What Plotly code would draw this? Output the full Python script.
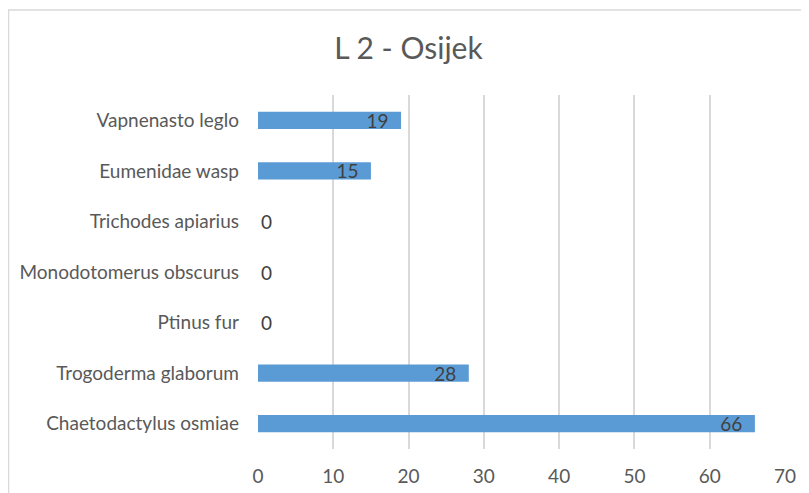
import plotly.graph_objects as go

categories = ["Chaetodactylus osmiae", "Trogoderma glaborum", "Ptinus fur",
              "Monodotomerus obscurus", "Trichodes apiarius", "Eumenidae wasp",
              "Vapnenasto leglo"]
counts = [66, 28, 0, 0, 0, 15, 19]
x_ticks = [0, 10, 20, 30, 40, 50, 60, 70]

# the page body adds an 8px offset, so the figure is sized to fit the window
W, H = 801, 485
L, R, T, B = 250, 24, 87, 44

fig = go.Figure()
fig.add_trace(
    go.Bar(
        y=categories,
        x=counts,
        orientation="h",
        marker=dict(color="#5b9bd5", line=dict(width=0)),
        # trailing en-space keeps the inside labels off the bar end, as in Excel
        text=[f"{v}\u2002" if v > 0 else str(v) for v in counts],
        textposition=["inside" if v > 0 else "outside" for v in counts],
        insidetextanchor="end",
        textangle=0,
        constraintext="none",
        textfont=dict(color="#404040", size=19, family="Lato"),
        cliponaxis=False,
        width=0.34,
    )
)

pw, ph = W - L - R, H - T - B
fig.add_shape(
    type="rect", xref="paper", yref="paper",
    x0=(0.5 - L) / pw, x1=1 + (R + 20) / pw,
    y0=-(B + 20) / ph, y1=1 + (T - 2) / ph,
    line=dict(color="#d9d9d9", width=1.5), fillcolor="rgba(0,0,0,0)", layer="below",
)

fig.update_layout(
    width=W,
    height=H,
    margin=dict(l=L, r=R, t=T, b=B, pad=0),
    paper_bgcolor="white",
    plot_bgcolor="white",
    showlegend=False,
    font=dict(family="Lato", color="#595959", size=19),
    title=dict(text="L 2 - Osijek", x=0.5, xanchor="center", y=1 - 40 / H,
               yanchor="middle", font=dict(size=30, color="#595959", family="Lato")),
    xaxis=dict(range=[0, 70], tickvals=x_ticks, showgrid=True, gridcolor="#d9d9d9",
               gridwidth=1.5, zeroline=False, showline=False, ticks="",
               automargin=False, ticklabelstandoff=14,
               tickfont=dict(size=19, color="#595959"), fixedrange=True),
    yaxis=dict(showgrid=False, zeroline=False, showline=False, ticks="",
               automargin=False, ticklabelstandoff=18,
               tickfont=dict(size=19, color="#595959"),
               range=[-0.5, 6.5]),
)

fig.write_html("out.html")
